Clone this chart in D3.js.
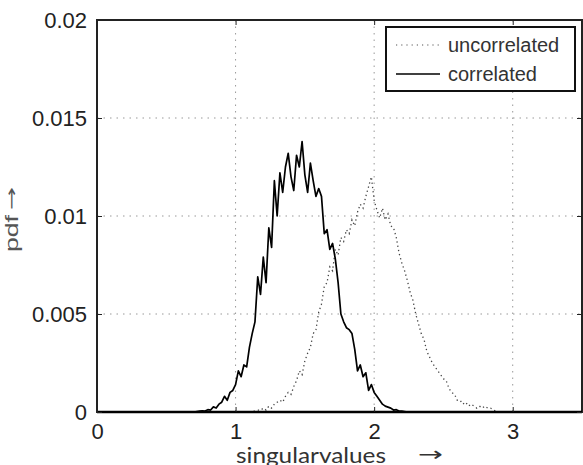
<!DOCTYPE html>
<html><head><meta charset="utf-8">
<script src="https://cdn.jsdelivr.net/npm/d3@7"></script>
<style>body{margin:0;background:#fff}svg{display:block}</style>
</head><body>
<svg id="c" width="583" height="465"></svg>
<script>
const xTicks = [0, 1, 2, 3];
const yTicks = [0, 0.005, 0.01, 0.015, 0.02];
const yTickLabels = ["0", "0.005", "0.01", "0.015", "0.02"];
const seriesNames = ["uncorrelated", "correlated"];

const corrX = d3.range(78).map(i => +(0.70 + i * 0.02).toFixed(2));
const corrY = [0,0.00002,0.00004,0.00006,0.00005,0.00012,0.0001,0.00026,0.0002,0.0004,
  0.0005,0.0008,0.0006,0.0010,0.0011,0.0014,0.0021,0.0018,0.0024,0.0023,
  0.0033,0.0040,0.0046,0.0069,0.0060,0.0079,0.0066,0.0094,0.0084,0.0118,
  0.0100,0.0122,0.0112,0.0125,0.0132,0.0120,0.0113,0.0131,0.0125,0.0138,
  0.0121,0.0112,0.0127,0.0118,0.0110,0.0114,0.0110,0.0091,0.0093,0.0083,
  0.0086,0.0078,0.0066,0.0050,0.0046,0.0043,0.0042,0.0040,0.0032,0.0021,
  0.0024,0.0018,0.0020,0.0011,0.0014,0.0010,0.0008,0.0006,0.0004,0.0003,
  0.00025,0.0002,0.0001,0.00012,0.00005,0.00004,0.00002,0];

const uncX = d3.range(91).map(i => +(1.10 + i * 0.02).toFixed(2));
const uncY = [0,0.00003,0.00005,0.0001,0.00008,0.0002,0.0001,0.0003,0.0002,0.0004,
  0.0005,0.0006,0.0005,0.0008,0.0010,0.0009,0.0013,0.0016,0.0021,0.0019,
  0.0026,0.0030,0.0033,0.0040,0.0042,0.0051,0.0055,0.0064,0.0066,0.0074,
  0.0072,0.0083,0.0080,0.0089,0.0087,0.0093,0.0091,0.0098,0.0095,0.0102,
  0.0106,0.0104,0.0110,0.0115,0.0120,0.0108,0.0103,0.0099,0.0104,0.0098,
  0.0101,0.0095,0.0094,0.0089,0.0081,0.0076,0.0072,0.0067,0.0061,0.0057,
  0.0050,0.0045,0.0040,0.0037,0.0031,0.0028,0.0025,0.0023,0.0021,0.0019,
  0.0017,0.0016,0.0012,0.0010,0.0009,0.0006,0.0006,0.0004,0.0005,0.0003,
  0.0004,0.0003,0.0002,0.0003,0.0002,0.0003,0.0002,0.0002,0.0001,0.00005,0];

const svg = d3.select("#c");
const L = 97, R = 582, T = 20, B = 412;
const x = d3.scaleLinear().domain([0, 3.5]).range([L, R]);
const y = d3.scaleLinear().domain([0, 0.02]).range([B, T]);
const font = "'Liberation Sans', Arial, sans-serif";

// grid
svg.append("g").selectAll("line").data(xTicks.slice(1)).join("line")
  .attr("x1", d => x(d)).attr("x2", d => x(d)).attr("y1", T).attr("y2", B)
  .attr("stroke", "#999").attr("stroke-width", 1).attr("stroke-dasharray", "1.5,5");
svg.append("g").selectAll("line").data(yTicks.slice(1, 4)).join("line")
  .attr("x1", L).attr("x2", R).attr("y1", d => y(d)).attr("y2", d => y(d))
  .attr("stroke", "#999").attr("stroke-width", 1).attr("stroke-dasharray", "1.5,5");

// series
const line = d3.line().x(d => x(d[0])).y(d => y(d[1]));
svg.append("path").datum(uncX.map((v, i) => [v, uncY[i]]))
  .attr("d", line).attr("fill", "none").attr("stroke", "#444")
  .attr("stroke-width", 1.3).attr("stroke-dasharray", "1.3,3");
svg.append("path").datum(corrX.map((v, i) => [v, corrY[i]]))
  .attr("d", line).attr("fill", "none").attr("stroke", "#000")
  .attr("stroke-width", 1.7).attr("stroke-linejoin", "round");

// axes frame
svg.append("rect").attr("x", L).attr("y", T).attr("width", R - L).attr("height", B - T)
  .attr("fill", "none").attr("stroke", "#222").attr("stroke-width", 2);
svg.append("line").attr("x1", L).attr("x2", R).attr("y1", B).attr("y2", B)
  .attr("stroke", "#000").attr("stroke-width", 2.5);

// ticks (inward)
const gx = svg.append("g").attr("transform", `translate(0,${B})`)
  .call(d3.axisBottom(x).tickValues(xTicks).tickSize(-5).tickFormat(d3.format("d")).tickPadding(11));
gx.select(".domain").remove();
gx.selectAll("text").attr("font-family", font).attr("font-size", 22).attr("fill", "#222");
gx.selectAll("line").attr("stroke", "#222");
const gxt = svg.append("g").attr("transform", `translate(0,${T})`)
  .call(d3.axisTop(x).tickValues(xTicks).tickSize(-5).tickFormat(""));
gxt.select(".domain").remove(); gxt.selectAll("line").attr("stroke", "#222");

const gy = svg.append("g").attr("transform", `translate(${L},0)`)
  .call(d3.axisLeft(y).tickValues(yTicks).tickSize(-5).tickPadding(10)
    .tickFormat((d, i) => yTickLabels[i]));
gy.select(".domain").remove();
gy.selectAll("text").attr("font-family", font).attr("font-size", 22).attr("fill", "#222");
gy.selectAll("line").attr("stroke", "#222");
const gyr = svg.append("g").attr("transform", `translate(${R},0)`)
  .call(d3.axisRight(y).tickValues(yTicks).tickSize(-5).tickFormat(""));
gyr.select(".domain").remove(); gyr.selectAll("line").attr("stroke", "#222");

// axis labels
svg.append("text").attr("x", 236).attr("y", 463).attr("font-family", "Lato, 'Open Sans', sans-serif")
  .attr("font-size", 22).attr("fill", "#333")
  .attr("textLength", 150).attr("lengthAdjust", "spacingAndGlyphs").text("singularvalues");
svg.append("text").attr("x", 418).attr("y", 461).attr("font-family", "'DejaVu Sans', sans-serif")
  .attr("font-size", 20).attr("fill", "#333")
  .attr("textLength", 25).attr("lengthAdjust", "spacingAndGlyphs").text("→");
svg.append("text").attr("transform", "translate(18,252) rotate(-90)")
  .attr("font-family", font).attr("font-size", 18).attr("fill", "#555")
  .attr("textLength", 37).attr("lengthAdjust", "spacingAndGlyphs").text("pdf");
svg.append("text").attr("transform", "translate(17,210) rotate(-90)")
  .attr("font-family", "'DejaVu Sans', sans-serif").attr("font-size", 16).attr("fill", "#555")
  .attr("textLength", 23).attr("lengthAdjust", "spacingAndGlyphs").text("→");

// legend
const lg = svg.append("g");
lg.append("rect").attr("x", 386).attr("y", 27).attr("width", 189).attr("height", 64)
  .attr("fill", "#fff").attr("stroke", "#111").attr("stroke-width", 2);
const ly = [45, 74];
lg.append("line").attr("x1", 396).attr("x2", 440).attr("y1", ly[0]).attr("y2", ly[0])
  .attr("stroke", "#555").attr("stroke-width", 1.2).attr("stroke-dasharray", "1.2,4");
lg.append("line").attr("x1", 396).attr("x2", 440).attr("y1", ly[1]).attr("y2", ly[1])
  .attr("stroke", "#000").attr("stroke-width", 1.6);
lg.selectAll("text.l").data(seriesNames).join("text").attr("class", "l")
  .attr("x", 448).attr("y", (d, i) => ly[i]).attr("dy", "0.35em")
  .attr("font-family", font).attr("font-size", 20).attr("fill", "#333").text(d => d);
</script>
</body></html>
